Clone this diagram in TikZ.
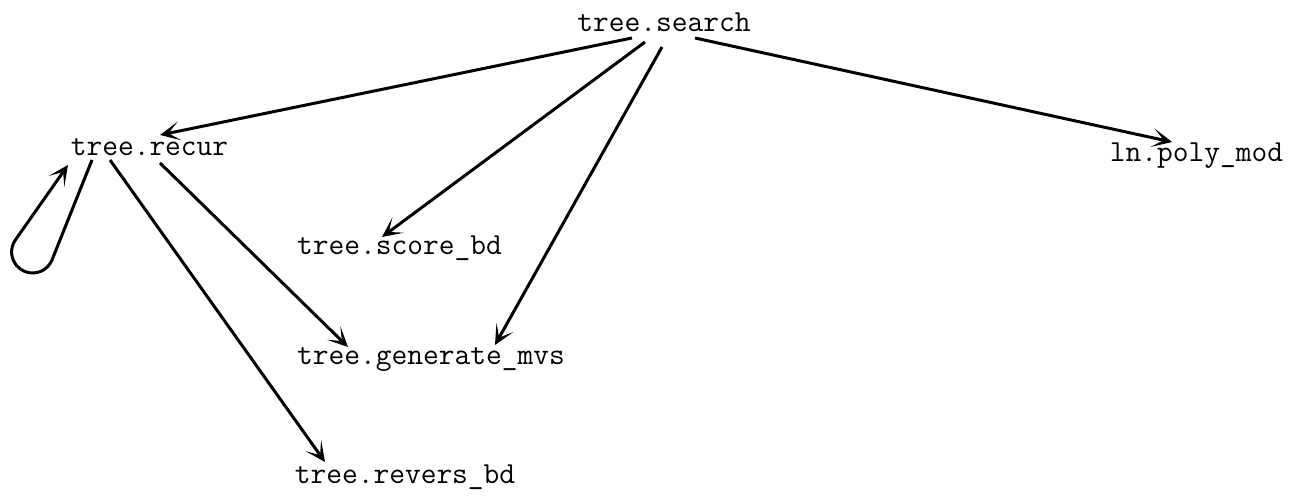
\documentclass[tikz,border=0pt]{standalone}
\usepackage{fontspec}
\usetikzlibrary{arrows.meta,positioning}

\begin{document}
\begin{tikzpicture}[>={Stealth[length=4mm,width=3.8mm,inset=2.3mm]},
    proc/.style={font=\ttfamily\fontsize{17.4}{20}\selectfont, inner sep=1pt, anchor=base},
    call/.style={->, line width=1.7pt}]
    \useasboundingbox (0,0) rectangle (25.9,-9.94);

    \node (search) [proc] at (13.28,-0.63) {tree.search};
    \node (recur) [proc] at (2.99,-3.12) {tree.recur};
    \node (polymod) [proc] at (23.93,-3.24) {ln.poly\_mod};
    \node (score) [proc] at (7.99,-5.1) {tree.score\_bd};
    \node (generate) [proc] at (8.62,-7.3) {tree.generate\_mvs};
    \node (revers) [proc] at (8.1,-9.66) {tree.revers\_bd};

    \draw[call] ([shift={(-0.64,-0.13)}]search.base) -- ([shift={(0.21,0.42)}]recur.base);
    \draw[call] ([shift={(-0.38,-0.21)}]search.base) -- ([shift={(-0.35,0.36)}]score.base);
    \draw[call] ([shift={(-0.04,-0.31)}]search.base) -- ([shift={(1.28,0.4)}]generate.base);
    \draw[call] ([shift={(0.62,-0.13)}]search.base) -- ([shift={(-0.49,0.4)}]polymod.base);
    \draw[call] ([shift={(0.21,-0.14)}]recur.base) -- ([shift={(-1.66,0.36)}]generate.base);
    \draw[call] ([shift={(-0.79,-0.08)}]recur.base) -- ([shift={(-1.6,0.42)}]revers.base);
    % recursive call
    \draw[call] ([shift={(-1.15,-0.08)}]recur.base) -- ++(248.2:2.15)
        arc[start angle=338.2, end angle=145, radius=0.42] -- ([shift={(-1.63,-0.18)}]recur.base);
\end{tikzpicture}
\end{document}
